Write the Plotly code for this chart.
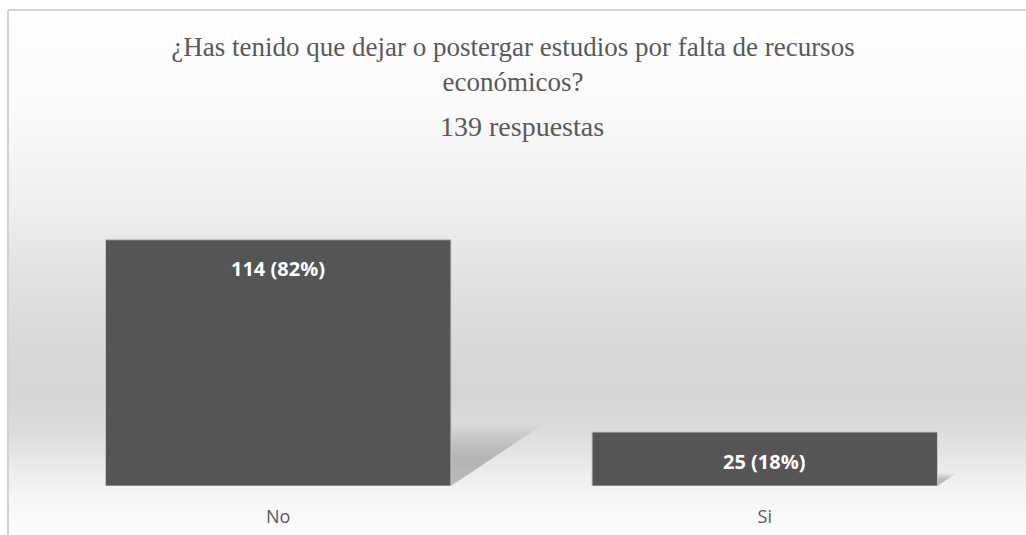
import base64
import struct
import zlib

import plotly.graph_objects as go

# --- data ---
categories = ["No", "Si"]
counts = [114, 25]
percents = [82, 18]
total_responses = 139
title_text = "¿Has tenido que dejar o postergar estudios por falta de recursos<br>económicos?"
subtitle_text = f"{total_responses} respuestas"

# --- canvas geometry (pixels) ---
W, H = 1026, 535
M_L, M_R, M_T, M_B = 35, 18, 216, 49
PLOT_W = W - M_L - M_R
PLOT_H = H - M_T - M_B


def px_x(px):
    return (px - M_L) / PLOT_W


def px_y(py):
    return (H - M_B - py) / PLOT_H


# vertical background gradient: (pixel row, gray level)
grad_stops = [(0, 254), (100, 250), (200, 238), (280, 224), (340, 216),
              (385, 214), (420, 220), (450, 232), (486, 245), (525, 253)]


def gradient_png(stops, height):
    rows = []
    for r in range(height):
        for (a, ga), (b, gb) in zip(stops, stops[1:]):
            if a <= r <= b:
                t = (r - a) / (b - a) if b > a else 0
                g = round(ga + (gb - ga) * t)
                break
        else:
            g = stops[-1][1]
        rows.append(b"\x00" + bytes([g, g, g]) * 2)
    raw = b"".join(rows)

    def chunk(tag, data):
        c = struct.pack(">I", len(data)) + tag + data
        return c + struct.pack(">I", zlib.crc32(tag + data) & 0xFFFFFFFF)

    png = b"\x89PNG\r\n\x1a\n"
    png += chunk(b"IHDR", struct.pack(">IIBBBBB", 2, height, 8, 2, 0, 0, 0))
    png += chunk(b"IDAT", zlib.compress(raw, 9))
    png += chunk(b"IEND", b"")
    return "data:image/png;base64," + base64.b64encode(png).decode()


FRAME_L, FRAME_T = 8, 10
bg_src = gradient_png(grad_stops, H - FRAME_T)

x_pos = list(range(len(categories)))
bar_width = 0.71

fig = go.Figure()
fig.add_trace(go.Bar(
    x=x_pos,
    y=counts,
    width=bar_width,
    marker=dict(color="#555555", line=dict(color="#c4c4c4", width=1)),
    hoverinfo="skip",
))

# value labels inside the top of each bar
for xi, c, p in zip(x_pos, counts, percents):
    fig.add_annotation(
        x=xi, y=c, text=f"<b>{c} ({p}%)</b>", showarrow=False,
        yanchor="middle", yshift=-29,
        font=dict(family="Open Sans", size=20, color="#ffffff"),
    )

# soft cast shadows to the right of each bar (stacked translucent layers)
y_max = 125
px_per_unit = PLOT_H / y_max
shapes = []
n_layers = 14
for xi, c in zip(x_pos, counts):
    xr = xi + bar_width / 2
    h = 0.23 * c
    dx = 1.5 * h * px_per_unit / PLOT_W * 2  # x-axis spans 2 units
    for k in range(n_layers):
        s = 1.08 - 0.045 * k
        hh = h * s
        ddx = dx * s
        path = f"M {xr},0 L {xr},{hh} L {xr + ddx},{hh} Z"
        shapes.append(dict(type="path", path=path, xref="x", yref="y",
                           fillcolor="rgba(0,0,0,0.017)", line=dict(width=0),
                           layer="below"))

# frame edges
shapes.append(dict(type="line", xref="paper", yref="paper",
                   x0=px_x(FRAME_L), x1=px_x(W), y0=px_y(FRAME_T), y1=px_y(FRAME_T),
                   line=dict(color="#d2d2d2", width=2), layer="above"))
shapes.append(dict(type="line", xref="paper", yref="paper",
                   x0=px_x(FRAME_L), x1=px_x(FRAME_L), y0=px_y(FRAME_T), y1=px_y(H),
                   line=dict(color="#d2d2d2", width=2), layer="above"))

fig.update_layout(
    width=W, height=H,
    margin=dict(l=M_L, r=M_R, t=M_T, b=M_B, autoexpand=False),
    paper_bgcolor="#ffffff",
    plot_bgcolor="rgba(0,0,0,0)",
    showlegend=False,
    shapes=shapes,
    images=[dict(
        source=bg_src, xref="paper", yref="paper",
        x=px_x(FRAME_L), y=px_y(FRAME_T),
        sizex=px_x(W) - px_x(FRAME_L), sizey=px_y(FRAME_T) - px_y(H),
        xanchor="left", yanchor="top", sizing="stretch", layer="below",
    )],
    title=dict(
        text=title_text, x=0.5, xanchor="center", xref="container",
        y=1 - 56 / H, yanchor="middle", yref="container",
        font=dict(family="Liberation Serif", size=27, color="#595959"),
    ),
    xaxis=dict(
        range=[-0.5, 1.5], tickvals=x_pos, ticktext=categories,
        showgrid=False, zeroline=False, showline=False, ticks="",
        ticklabelstandoff=18, automargin=False,
        tickfont=dict(family="Open Sans", size=18, color="#595959"),
        fixedrange=True,
    ),
    yaxis=dict(range=[0, y_max], visible=False, fixedrange=True, automargin=False),
)

fig.add_annotation(
    x=0.5, xref="paper", y=px_y(127), yref="paper", yanchor="middle",
    text=subtitle_text, showarrow=False,
    font=dict(family="Liberation Serif", size=28, color="#595959"),
)

fig.write_html("out.html")
